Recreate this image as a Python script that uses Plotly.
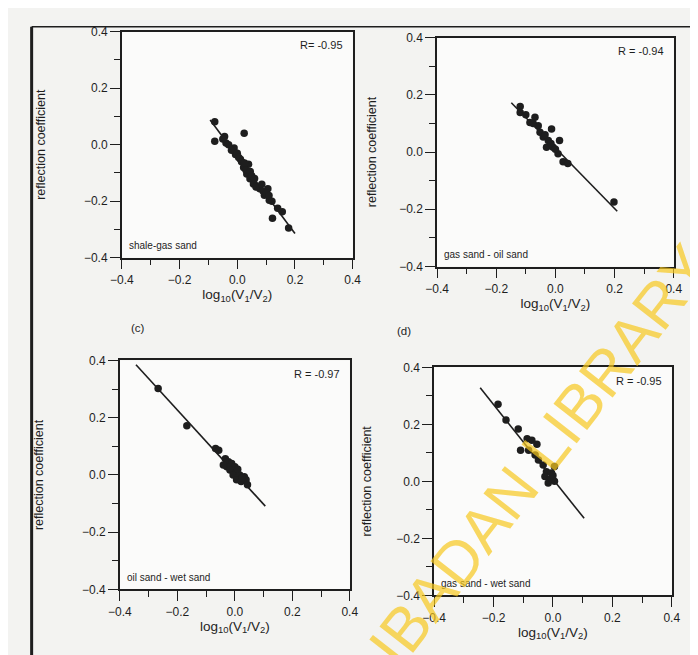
import plotly.graph_objects as go

# ---------------- data ----------------
# (a) shale - gas sand
x_a = [-0.078, -0.078, 0.024, -0.044, -0.039, -0.011, -0.006, 0.011, 0.039, 0.022,
       0.033, 0.044, 0.056, 0.078, 0.106, 0.094, 0.111, 0.156, 0.122, 0.178,
       -0.050, -0.030, -0.020, 0.000, 0.005, 0.015, 0.025, 0.030, 0.045, 0.050,
       0.060, 0.065, 0.085, 0.090, 0.100, 0.110, 0.120, 0.140]
y_a = [0.081, 0.012, 0.040, 0.029, 0.006, -0.012, -0.035, -0.052, -0.069, -0.081,
       -0.104, -0.121, -0.139, -0.156, -0.156, -0.179, -0.197, -0.237, -0.260, -0.295,
       0.020, 0.000, -0.020, -0.030, -0.045, -0.060, -0.065, -0.090, -0.095, -0.110,
       -0.120, -0.150, -0.140, -0.165, -0.170, -0.180, -0.200, -0.225]
fit_a_x = [-0.094, 0.200]
fit_a_y = [0.087, -0.314]

# (b) gas sand - oil sand
x_b = [-0.119, -0.119, -0.069, -0.086, -0.058, -0.013, -0.052, -0.041, -0.024, 0.014,
       -0.030, -0.008, 0.009, 0.026, 0.042, 0.198, -0.100, -0.075, -0.035, -0.015, 0.000]
y_b = [0.159, 0.138, 0.121, 0.103, 0.092, 0.080, 0.069, 0.052, 0.040, 0.040,
       0.017, 0.017, -0.006, -0.034, -0.040, -0.175, 0.130, 0.100, 0.060, 0.030, 0.010]
fit_b_x = [-0.149, 0.209]
fit_b_y = [0.172, -0.207]

# (c) oil sand - wet sand
x_c = [-0.267, -0.167, -0.067, -0.056, -0.033, -0.022, -0.011, -0.028, 0.000, -0.017,
       0.006, -0.006, 0.017, 0.033, 0.006, 0.022, 0.039, 0.044, -0.040, 0.010, 0.025]
y_c = [0.302, 0.172, 0.092, 0.086, 0.057, 0.046, 0.040, 0.029, 0.029, 0.017,
       0.011, 0.000, 0.000, -0.006, -0.017, -0.023, -0.017, -0.034, 0.035, 0.020, -0.010]
fit_c_x = [-0.344, 0.106]
fit_c_y = [0.385, -0.109]

# (d) gas sand - wet sand
x_d = [-0.185, -0.158, -0.117, -0.087, -0.071, -0.054, -0.109, -0.082, -0.060, -0.049,
       -0.033, 0.005, -0.022, -0.005, -0.027, -0.011, 0.005, -0.016, -0.005, 0.000]
y_d = [0.270, 0.215, 0.184, 0.149, 0.144, 0.130, 0.109, 0.109, 0.092, 0.075,
       0.057, 0.052, 0.034, 0.029, 0.017, 0.006, 0.000, -0.006, 0.010, 0.020]
fit_d_x = [-0.245, 0.105]
fit_d_y = [0.328, -0.130]

r_labels = ["R= -0.95", "R = -0.94", "R = -0.97", "R = -0.95"]
pair_labels = ["shale-gas sand", "gas sand - oil sand", "oil sand - wet sand", "gas sand - wet sand"]
panel_tags = ["(c)", "(d)"]

# ---------------- figure ----------------
W, H = 698, 655
FONT = "Liberation Sans, Arial, Helvetica, sans-serif"
INK = "#1e1e1e"

# pixel boxes of the four plot areas (left, right, top, bottom)
boxes = [(105, 343, 17, 248), (430, 674, 23, 257), (103, 340, 353, 587), (427, 672, 360, 593)]
y_standoffs = [36, 20, 36, 22]
series = [(x_a, y_a, fit_a_x, fit_a_y), (x_b, y_b, fit_b_x, fit_b_y),
          (x_c, y_c, fit_c_x, fit_c_y), (x_d, y_d, fit_d_x, fit_d_y)]

fig = go.Figure()
layout = dict(
    width=W, height=H, margin=dict(l=0, r=0, t=0, b=0),
    paper_bgcolor="#f3f3f1", plot_bgcolor="#fbfbfa", showlegend=False,
    font=dict(family=FONT, color=INK, size=11),
)
annotations = []
for i, ((l, r, t, b), (xs, ys, fx, fy)) in enumerate(zip(boxes, series)):
    n = "" if i == 0 else str(i + 1)
    xa, ya = "x" + n, "y" + n
    fig.add_trace(go.Scatter(x=fx, y=fy, mode="lines", xaxis=xa, yaxis=ya,
                             line=dict(color=INK, width=1.6), hoverinfo="skip"))
    fig.add_trace(go.Scatter(x=xs, y=ys, mode="markers", xaxis=xa, yaxis=ya,
                             marker=dict(color=INK, size=7.5, line=dict(width=0))))
    common = dict(range=[-0.4, 0.4], tickmode="linear", tick0=-0.4, dtick=0.2,
                  tickformat=".1f",
                  ticks="outside", ticklen=10, tickwidth=1.4, tickcolor=INK,
                  minor=dict(ticks="outside", ticklen=6, tickwidth=1.2, tickcolor=INK,
                             tick0=-0.3, dtick=0.1, showgrid=False),
                  showline=True, linecolor=INK, linewidth=1.6, mirror=True,
                  showgrid=False, zeroline=False, tickfont=dict(size=12, color=INK))
    layout["xaxis" + n] = dict(common, domain=[l / W, r / W], anchor=ya,
                               title=dict(text="log<sub>10</sub>(V<sub>1</sub>/V<sub>2</sub>)",
                                          font=dict(size=13.5), standoff=2))
    layout["yaxis" + n] = dict(common, domain=[1 - b / H, 1 - t / H], anchor=xa,
                               title=dict(text="reflection coefficient", font=dict(size=12.5),
                                          standoff=y_standoffs[i]))
    annotations.append(dict(x=r / W - 8 / W, y=1 - (t + 14) / H, xref="paper", yref="paper",
                            text=r_labels[i], showarrow=False, xanchor="right", yanchor="middle",
                            font=dict(size=11, color=INK)))
    annotations.append(dict(x=(l + 5) / W, y=1 - (b - 12) / H, xref="paper", yref="paper",
                            text=pair_labels[i], showarrow=False, xanchor="left", yanchor="middle",
                            font=dict(size=10, color=INK)))

annotations.append(dict(x=112 / W, y=1 - 320 / H, xref="paper", yref="paper", text=panel_tags[0],
                        showarrow=False, font=dict(size=11.5, color=INK)))
annotations.append(dict(x=396 / W, y=1 - 323 / H, xref="paper", yref="paper", text=panel_tags[1],
                        showarrow=False, font=dict(size=11.5, color=INK)))
# library watermark
annotations.append(dict(x=536 / W, y=1 - 450 / H, xref="paper", yref="paper", text="IBADAN LIBRARY",
                        showarrow=False, textangle=-52, xanchor="center", yanchor="middle",
                        font=dict(size=62, color="rgba(246,200,30,0.7)", family=FONT)))
layout["annotations"] = annotations
layout["shapes"] = [
    dict(type="line", xref="paper", yref="paper", x0=12 / W, x1=12 / W, y0=0, y1=1 - 12 / H,
         line=dict(color=INK, width=3)),
    dict(type="line", xref="paper", yref="paper", x0=12 / W, x1=1, y0=1 - 12 / H, y1=1 - 12 / H,
         line=dict(color=INK, width=1.6)),
]
fig.update_layout(**layout)
fig.write_html("out.html")
